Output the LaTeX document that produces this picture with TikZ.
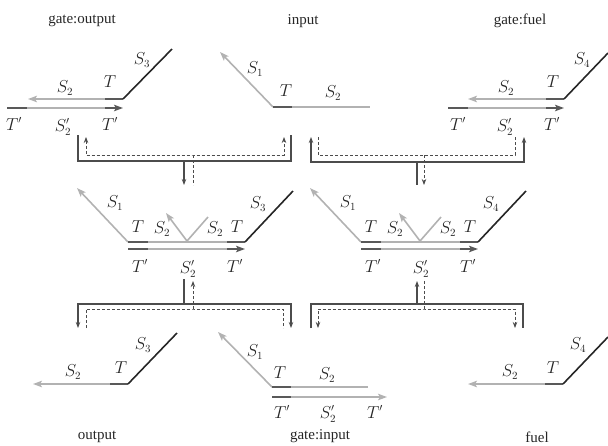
\documentclass[tikz,border=0pt]{standalone}
\usepackage{fontspec}
\setmainfont{Liberation Serif}
\usetikzlibrary{arrows.meta}

\tikzset{
  strand/.style={line width=1.6pt, color=gray!60},
  dom/.style={line width=1.6pt, color=black!65},
  toe/.style={line width=1.6pt, color=black!85},
  strandarr/.style={-{Stealth[length=9pt,width=6.5pt,inset=2pt]}},
  lab/.style={font=\fontsize{16}{19}\selectfont, text=black!85, inner sep=0pt},
  title/.style={font=\fontsize{15}{18}\selectfont, text=black!85, inner sep=0pt},
  fwd/.style={line width=1.1pt, color=black!70, >={Stealth[length=6pt,width=4.5pt]}},
  bwd/.style={fwd, line width=0.8pt, dash pattern=on 3pt off 2pt},
}

\begin{document}
\begin{tikzpicture}[x=1pt,y=-1pt]
  \useasboundingbox (0,0) rectangle (608,445);

  % top row
  \node[title] (gateout) at (82,21) {gate:output};
  \node[title] (input) at (303,21) {input};
  \node[title] (gatefuel) at (520,21) {gate:fuel};

  % gate:output
  \draw[strand,strandarr] (105,99) -- (28,99);
  \draw[dom] (105,99) -- (123,99);
  \draw[toe] (123,99) -- (172,49);
  \draw[strand] (7,108) -- (105,108);
  \draw[dom] (7,108) -- (27,108);
  \draw[dom,strandarr] (105,108) -- (123,108);
  \node[lab] (go-s2) at (65,88) {$S_2$};
  \node[lab] (go-t) at (110,82) {$T$};
  \node[lab] (go-s3) at (142,60) {$S_3$};
  \node[lab] (go-tp1) at (14,124) {$T'$};
  \node[lab] (go-s2p) at (63,127) {$S_2'$};
  \node[lab] (go-tp2) at (110,124) {$T'$};

  % input
  \draw[strand,strandarr] (273,107) -- (220,52);
  \draw[strand] (292,107) -- (370,107);
  \draw[dom] (273,107) -- (292,107);
  \node[lab] (in-s1) at (255,69) {$S_1$};
  \node[lab] (in-t) at (286,91) {$T$};
  \node[lab] (in-s2) at (333,93) {$S_2$};

  % gate:fuel
  \draw[strand,strandarr] (546,99) -- (468,99);
  \draw[dom] (546,99) -- (564,99);
  \draw[toe] (564,99) -- (608,53);
  \draw[strand] (448,108) -- (546,108);
  \draw[dom] (448,108) -- (468,108);
  \draw[dom,strandarr] (546,108) -- (564,108);
  \node[lab] (gf-s2) at (506,88) {$S_2$};
  \node[lab] (gf-t) at (553,82) {$T$};
  \node[lab] (gf-s4) at (582,60) {$S_4$};
  \node[lab] (gf-tp1) at (458,124) {$T'$};
  \node[lab] (gf-s2p) at (505,127) {$S_2'$};
  \node[lab] (gf-tp2) at (552,124) {$T'$};

  % middle row: the two three-way complexes
  \foreach \dx/\k/\nm in {0/3/ml, 233/4/mr} {
    \begin{scope}[xshift=\dx]
      \draw[strand,strandarr] (128,242) -- (77,188);
      \draw[strand] (148,242) -- (227,242);
      \draw[dom] (128,242) -- (148,242);
      \draw[dom] (227,242) -- (245,242);
      \draw[toe] (245,242) -- (293,191);
      \draw[strand,strandarr] (187,241) -- (166,213);
      \draw[strand] (187,241) -- (208,217);
      \draw[strand] (148,249) -- (227,249);
      \draw[dom] (128,249) -- (148,249);
      \draw[dom,strandarr] (227,249) -- (245,249);
      \node[lab] (\nm-s1) at (115,203) {$S_1$};
      \node[lab] (\nm-t1) at (138,227) {$T$};
      \node[lab] (\nm-s2a) at (162,229) {$S_2$};
      \node[lab] (\nm-s2b) at (215,229) {$S_2$};
      \node[lab] (\nm-t2) at (237,227) {$T$};
      \node[lab] (\nm-toe) at (258,204) {$S_\k$};
      \node[lab] (\nm-tp1) at (140,266) {$T'$};
      \node[lab] (\nm-s2p) at (188,269) {$S_2'$};
      \node[lab] (\nm-tp2) at (235,266) {$T'$};
    \end{scope}
  }

  % bottom row
  \node[title] (output) at (97,437) {output};
  \node[title] (gatein) at (320,436) {gate:input};
  \node[title] (fuel) at (537,437) {fuel};

  % output
  \draw[strand,strandarr] (110,384) -- (33,384);
  \draw[dom] (110,384) -- (128,384);
  \draw[toe] (128,384) -- (177,333);
  \node[lab] (ou-s2) at (73,372) {$S_2$};
  \node[lab] (ou-t) at (121,368) {$T$};
  \node[lab] (ou-s3) at (143,345) {$S_3$};

  % gate:input
  \draw[strand,strandarr] (272,387) -- (218,332);
  \draw[strand] (291,387) -- (368,387);
  \draw[dom] (272,387) -- (291,387);
  \draw[strand,strandarr] (291,397) -- (387,397);
  \draw[dom] (272,397) -- (291,397);
  \node[lab] (gi-s1) at (255,352) {$S_1$};
  \node[lab] (gi-t) at (280,373) {$T$};
  \node[lab] (gi-s2) at (327,375) {$S_2$};
  \node[lab] (gi-tp1) at (282,412) {$T'$};
  \node[lab] (gi-s2p) at (328,414) {$S_2'$};
  \node[lab] (gi-tp2) at (375,412) {$T'$};

  % fuel
  \draw[strand,strandarr] (545,384) -- (468,384);
  \draw[dom] (545,384) -- (563,384);
  \draw[toe] (563,384) -- (608,337);
  \node[lab] (fu-s2) at (510,372) {$S_2$};
  \node[lab] (fu-t) at (553,368) {$T$};
  \node[lab] (fu-s4) at (578,345) {$S_4$};

  % bracket end points (solid = forward, dashed = backward)
  \coordinate (tlA) at (78,135);  \coordinate (tlB) at (291,135);
  \coordinate (tlM) at (184,161); \coordinate (tlE) at (184,185);
  \coordinate (tla) at (86,137);  \coordinate (tlb) at (284,137);
  \coordinate (tlm) at (193,155); \coordinate (tle) at (193,185);

  \coordinate (trA) at (311,137); \coordinate (trB) at (524,137);
  \coordinate (trM) at (417,162); \coordinate (trE) at (417,185);
  \coordinate (tra) at (318,137); \coordinate (trb) at (515,137);
  \coordinate (trm) at (424,155); \coordinate (tre) at (424,185);

  \coordinate (blA) at (78,328);  \coordinate (blB) at (291,328);
  \coordinate (blM) at (184,304); \coordinate (blE) at (184,279);
  \coordinate (bla) at (86,328);  \coordinate (blb) at (283,328);
  \coordinate (blm) at (193,309); \coordinate (ble) at (193,281);

  \coordinate (brA) at (311,328); \coordinate (brB) at (523,328);
  \coordinate (brM) at (417,304); \coordinate (brE) at (417,281);
  \coordinate (bra) at (318,328); \coordinate (brb) at (515,328);
  \coordinate (brm) at (424,309); \coordinate (bre) at (424,280);

  % top left
  \draw[fwd] (tlA) |- (tlM) -| (tlB);
  \draw[fwd,->] (tlM) -- (tlE);
  \draw[bwd,<->] (tla) |- (tlm) -| (tlb);
  \draw[bwd] (tlm) -- (tle);
  % top right
  \draw[fwd,<->] (trA) |- (trM) -| (trB);
  \draw[fwd] (trM) -- (trE);
  \draw[bwd] (tra) |- (trm) -| (trb);
  \draw[bwd,->] (trm) -- (tre);
  % bottom left
  \draw[fwd,<->] (blA) |- (blM) -| (blB);
  \draw[fwd] (blM) -- (blE);
  \draw[bwd] (bla) |- (blm) -| (blb);
  \draw[bwd,->] (blm) -- (ble);
  % bottom right
  \draw[fwd] (brA) |- (brM) -| (brB);
  \draw[fwd,->] (brM) -- (brE);
  \draw[bwd,<->] (bra) |- (brm) -| (brb);
  \draw[bwd] (brm) -- (bre);
\end{tikzpicture}
\end{document}
